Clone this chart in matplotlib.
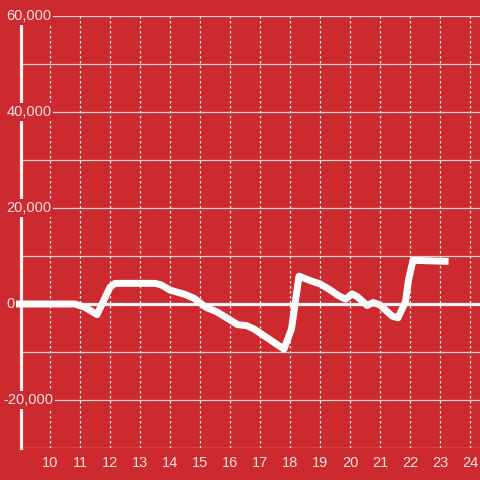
import matplotlib
matplotlib.use("Agg")
import matplotlib.pyplot as plt
import matplotlib.transforms as mtransforms

# hour of day vs value
hours = [8.9, 10.83, 11.17, 11.57, 12.0, 12.17, 13.5, 13.7, 14.0, 14.5, 14.8,
         15.2, 15.55, 16.0, 16.25, 16.55, 16.8, 17.3, 17.8, 18.05, 18.3, 18.75,
         19.0, 19.3, 19.6, 19.85, 20.07, 20.25, 20.57, 20.77, 21.0, 21.4, 21.6,
         21.85, 21.95, 22.1, 23.17]
values = [0, 0, -700, -2200, 3500, 4300, 4300, 4000, 2900, 2000, 1200,
          -700, -1600, -3300, -4300, -4500, -5200, -7300, -9400, -5200, 5800, 4700,
          4200, 3100, 1800, 1000, 2100, 1500, -300, 300, -200, -2500, -2900,
          500, 5000, 9100, 8900]

x_ticks = list(range(10, 25))
y_grid = list(range(-30000, 60001, 10000))
y_labels = [-20000, 0, 20000, 40000, 60000]

bg = '#cc2a2e'
txt = '#f3e2e2'

fig = plt.figure(figsize=(4.8, 4.8), dpi=100)
fig.patch.set_facecolor(bg)
ax = fig.add_axes([21 / 480, 32 / 480, 459 / 480, 432 / 480])
ax.set_facecolor(bg)

ax.set_xlim(9.0333, 24.3333)
ax.set_ylim(-30000, 60000)

for s in ['top', 'right', 'bottom', 'left']:
    ax.spines[s].set_visible(False)

# grid
for v in y_grid:
    ax.axhline(v, color='#d4d4d4', lw=0.9, zorder=1)
for h in x_ticks:
    ax.axvline(h, color='#f0f0f0', lw=0.9, ls=(0, (2, 2)), zorder=1)

# left axis line and zero line
ax.axvline(9.0333, color='#f2f2f2', lw=2.3, zorder=2, clip_on=False)
ax.plot([8.93, 24.4], [0, 0], color='#f7f7f7', lw=2.3, zorder=2, clip_on=False)

ax.plot(hours, values, color='white', lw=5, zorder=3, clip_on=False)

ax.set_xticks(x_ticks)
ax.set_xticklabels([str(h) for h in x_ticks])
ax.set_yticks([])
ax.tick_params(axis='x', length=0, pad=6, labelsize=10.5, labelcolor=txt)
for lab in ax.get_xticklabels():
    lab.set_fontfamily('Liberation Sans')

trans = mtransforms.blended_transform_factory(fig.transFigure, ax.transData)
for v in y_labels:
    label = f'{v:,}'
    x0 = 3 if v < 0 else 6.5
    ax.text(x0 / 480, v, label, transform=trans, ha='left', va='center',
            fontsize=10.5, color=txt, family='Liberation Sans', zorder=4,
            bbox=dict(facecolor=bg, edgecolor='none', pad=1.2))

fig.savefig('out.png', dpi=100, facecolor=bg)
